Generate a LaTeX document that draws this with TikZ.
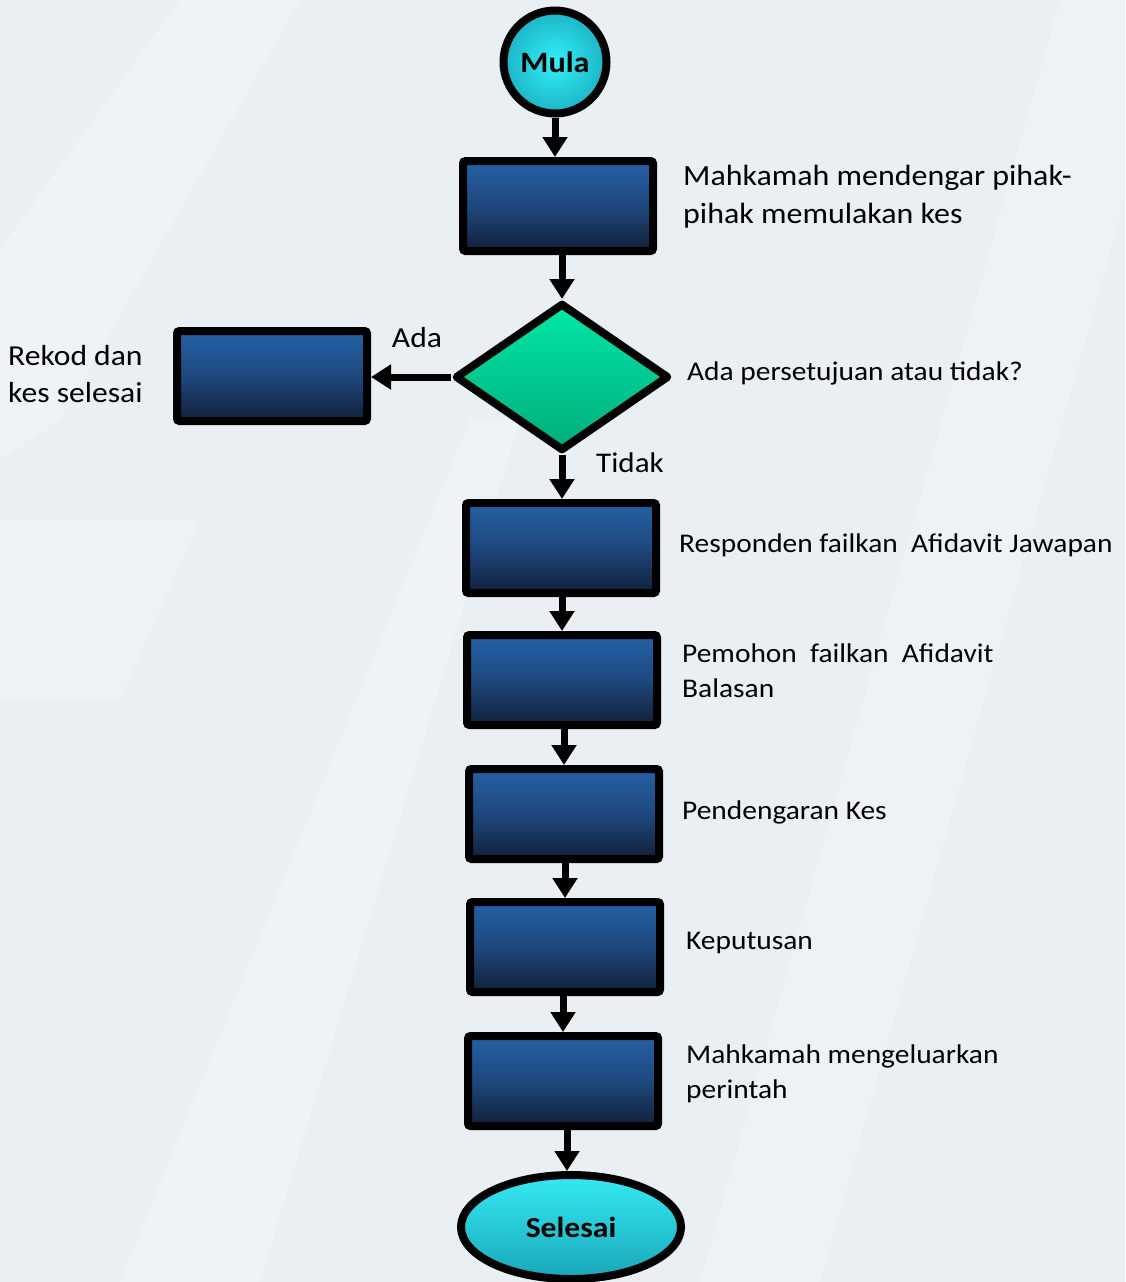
\documentclass[tikz,border=0pt]{standalone}
\usepackage{fontspec}
\setmainfont{Carlito}[FakeStretch=1.09]
\usetikzlibrary{shapes.geometric,arrows.meta}
\definecolor{bgc}{RGB}{234,239,243}
\definecolor{boxtop}{RGB}{37,97,166}
\definecolor{boxmid}{RGB}{30,72,125}
\definecolor{boxbot}{RGB}{18,32,58}
\definecolor{cyanin}{RGB}{50,240,248}
\definecolor{cyanout}{RGB}{28,180,198}
\definecolor{cyantop}{RGB}{52,234,244}
\definecolor{cyanbot}{RGB}{26,166,184}
\definecolor{dtop}{RGB}{0,232,166}
\definecolor{dbot}{RGB}{0,172,124}
\tikzset{
  box/.style={draw=black, line width=8pt, rounded corners=2.5pt, minimum width=190pt, minimum height=90pt,
    inner sep=0pt, top color=boxtop, bottom color=boxbot, middle color=boxmid},
  flow/.style={line width=7pt, -{Triangle[width=24pt,length=20pt]}},
  lbl/.style={anchor=west, align=left, inner sep=0pt, font=\fontsize{27}{35}\selectfont},
}
\begin{document}
\begin{tikzpicture}[x=1pt,y=-1pt]
\fill[bgc] (0,0) rectangle (1125,1282);
\useasboundingbox (0,0) rectangle (1125,1282);
\fill[white,opacity=0.3] (0,250) -- (180,0) -- (300,0) -- (60,420) -- (0,460) -- cycle;
\fill[white,opacity=0.25] (120,1282) -- (470,420) -- (520,420) -- (260,1282) -- cycle;
\fill[white,opacity=0.22] (700,1282) -- (1060,0) -- (1125,0) -- (1125,200) -- (820,1282) -- cycle;
\fill[white,opacity=0.2] (0,520) -- (200,520) -- (120,700) -- (0,700) -- cycle;
% nodes
\node[circle, draw=black, line width=8pt, minimum size=103pt, inner sep=0pt, shading=radial, inner color=cyanin, outer color=cyanout,
  font=\bfseries\fontsize{29.5}{34}\selectfont] (mula) at (555,62) {Mula};
\node[box] (b1) at (558,206) {};
\node[diamond, draw=black, line width=8pt, line join=round, minimum width=214pt, minimum height=148pt, inner sep=0pt,
  top color=dtop, bottom color=dbot] (dia) at (562,377) {};
\node[box] (bl) at (272,376) {};
\node[box] (b2) at (561,548) {};
\node[box] (b3) at (562,680) {};
\node[box] (b4) at (564,814) {};
\node[box] (b5) at (565,947) {};
\node[box] (b6) at (563,1081) {};
\node[ellipse, draw=black, line width=8pt, minimum width=220pt, minimum height=104pt, inner sep=0pt,
  top color=cyantop, bottom color=cyanbot, font=\bfseries\fontsize{29}{34}\selectfont] (end) at (571,1227) {Selesai};
% connectors
\draw[flow] (mula.south) -- (mula.south |- b1.north);
\draw[flow] (dia.north |- b1.south) -- (dia.north);
\draw[flow] (dia.west) -- (bl.east |- dia.west);
\draw[flow] (dia.south) -- (dia.south |- b2.north);
\draw[flow] (b3.north |- b2.south) -- (b3.north);
\draw[flow] (b4.north |- b3.south) -- (b4.north);
\draw[flow] (b5.north |- b4.south) -- (b5.north);
\draw[flow] (b6.north |- b5.south) -- (b6.north);
\draw[flow] ([xshift=4pt]b6.south) -- ([xshift=4pt]b6.south |- end.north);
% labels
\node[lbl, font=\fontsize{29.3}{38}\selectfont] (t1) at (683,197) {Mahkamah mendengar pihak-\\pihak memulakan kes};
\node[lbl, font=\fontsize{29}{37}\selectfont] (tl) at (8,374) {Rekod dan\\kes selesai};
\node[lbl, anchor=center, font=\fontsize{29}{34}\selectfont] (tada) at (417,338) {Ada};
\node[lbl, font=\fontsize{28.5}{34}\selectfont] (ttidak) at (596,463) {Tidak};
\node[lbl] (tq) at (687,373) {Ada persetujuan atau tidak?};
\node[lbl] (t2) at (679,545) {Responden failkan\ \ Afidavit Jawapan};
\node[lbl] (t3) at (682,671) {Pemohon\ \ failkan\ \ Afidavit\\Balasan};
\node[lbl] (t4) at (682,812) {Pendengaran Kes};
\node[lbl] (t5) at (686,943) {Keputusan};
\node[lbl] (t6) at (686,1074) {Mahkamah mengeluarkan\\perintah};
\end{tikzpicture}
\end{document}
